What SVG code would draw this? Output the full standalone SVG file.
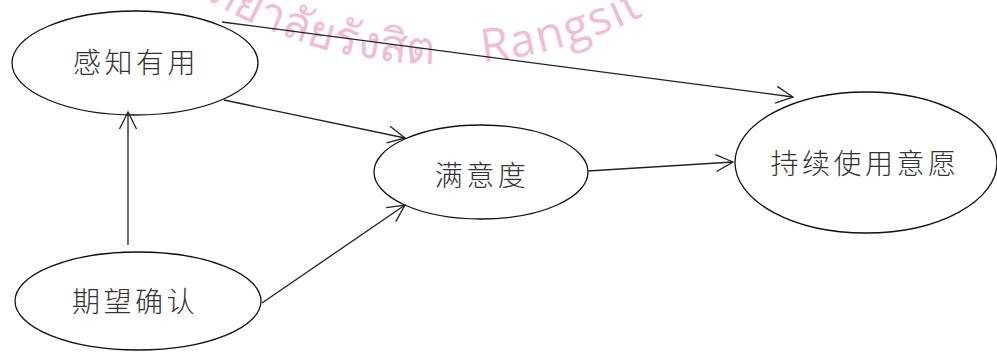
<svg xmlns="http://www.w3.org/2000/svg" width="997" height="352" viewBox="0 0 997 352">
<style>
.node ellipse{fill:#fff;stroke:#111;stroke-width:1.3}
.node text{font-family:"Noto Sans CJK SC","Noto Sans CJK JP",sans-serif;font-weight:300;font-size:28px;letter-spacing:3.5px;fill:#333;text-anchor:middle}
.edges line{stroke:#222;stroke-width:1.3;fill:none;marker-end:url(#arr)}
.wm{fill:#f1bdd6;font-size:46px;font-family:"Open Sans","DejaVu Sans",sans-serif}
</style>
<defs>
<marker id="arr" markerUnits="userSpaceOnUse" viewBox="-20 -10 22 20" refX="0" refY="0" markerWidth="22" markerHeight="20" orient="auto">
<path d="M-17,-8.5 L0,0 L-17,8.5" fill="none" stroke="#222" stroke-width="1.3"/>
</marker>
<path id="arc" d="M95.3,-96.7 A450,450 0 0 0 784.7,-96.7"/>
</defs>
<g id="watermark">
<text class="wm" font-size="56"><textPath href="#arc" startOffset="388" text-anchor="end">มหาวิทยาลัยรังสิต</textPath></text>
<text class="wm" letter-spacing="2"><textPath href="#arc" startOffset="435">Rangsit</textPath></text>
</g>
<g id="n1" class="node"><ellipse cx="135" cy="63" rx="123" ry="52"/><text x="136" y="73">感知有用</text></g>
<g id="n2" class="node"><ellipse cx="138" cy="301" rx="123" ry="49"/><text x="135" y="312">期望确认</text></g>
<g id="n3" class="node"><ellipse cx="481" cy="172" rx="107" ry="47"/><text x="482" y="186">满意度</text></g>
<g id="n4" class="node"><ellipse cx="866" cy="162.5" rx="131" ry="70.5"/><text x="865" y="174">持续使用意愿</text></g>
<g id="edges" class="edges">
<line x1="222" y1="22" x2="793" y2="97"/>
<line x1="224" y1="100" x2="405" y2="138"/>
<line x1="128" y1="245" x2="128" y2="112"/>
<line x1="262" y1="303" x2="405" y2="205"/>
<line x1="588" y1="171" x2="733" y2="162"/>
</g>
</svg>
